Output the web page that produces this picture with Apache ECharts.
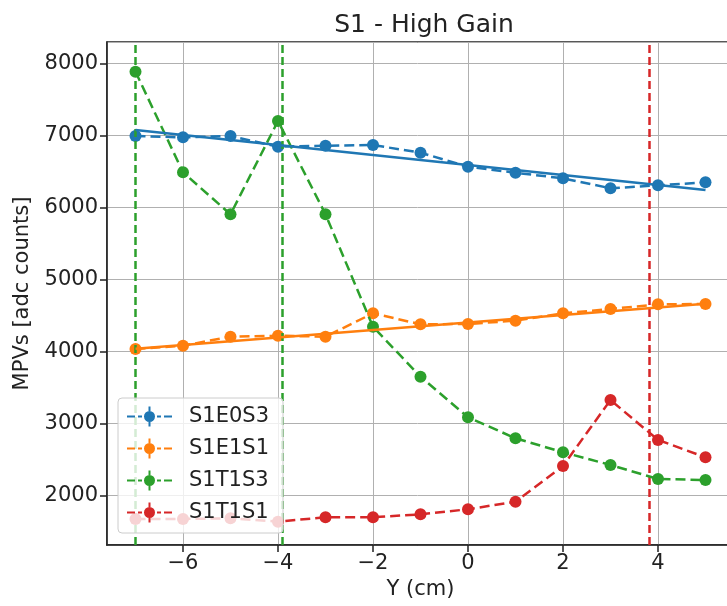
<!DOCTYPE html>
<html>
<head>
<meta charset="utf-8">
<script src="https://cdn.jsdelivr.net/npm/echarts@6/dist/echarts.min.js"></script>
<style>
html,body{margin:0;padding:0;background:#fff;}
#main{width:727px;height:606px;}
</style>
</head>
<body>
<div id="main"></div>
<script>
var xs = [-7, -6, -5, -4, -3, -2, -1, 0, 1, 2, 3, 4, 5];
var s1e0s3 = [6991, 6973, 6991, 6843, 6857, 6866, 6760, 6565, 6482, 6404, 6266, 6307, 6349];
var s1e1s1 = [4036, 4082, 4207, 4220, 4207, 4531, 4379, 4383, 4429, 4531, 4591, 4656, 4660];
var s1t1s3 = [7883, 6488, 5905, 7199, 5905, 4345, 3652, 3088, 2797, 2603, 2427, 2232, 2218];
var s1t1s1 = [1677, 1677, 1687, 1640, 1701, 1701, 1742, 1812, 1917, 2413, 3328, 2774, 2533];
var fitX = [-7, 5];
var fitE0S3 = [7075, 6242];
var fitE1S1 = [4040, 4665];
var vlineGreen = [-7, -3.91];
var vlineRed = [3.82];
var names = ['S1E0S3', 'S1E1S1', 'S1T1S3', 'S1T1S1'];
var colors = ['#1f77b4', '#ff7f0e', '#2ca02c', '#d62728'];

function pairs(x, y){
    var out = [];
    for(var i=0;i<x.length;i++){ out.push([x[i], y[i]]); }
    return out;
}
function minus(v){ return String(v).replace('-', '\u2212'); }

var legendIcon = 'path://M0,9h8v2h-8z M11,9h4v2h-4z M30,9h4v2h-4z M37,9h8v2h-8z M21.5,0h2v4.6h-2z M21.5,15.4h2v4.6h-2z M17,10a5.5,5.5 0 1,0 11,0a5.5,5.5 0 1,0 -11,0z';

function dataSeries(i, values, markX){
    var s = {
        name: names[i],
        type: 'line',
        data: pairs(xs, values),
        symbol: 'circle',
        symbolSize: 12,
        color: colors[i],
        lineStyle: {width: 2.5, type: [10, 5], color: colors[i]},
        itemStyle: {color: colors[i]},
        z: 3 + i
    };
    if(markX){
        s.markLine = {
            silent: true,
            symbol: 'none',
            label: {show: false},
            lineStyle: {color: colors[i], width: 2.5, type: [8, 4]},
            data: markX.map(function(v){ return {xAxis: v}; })
        };
    }
    return s;
}

var myChart = echarts.init(document.getElementById('main'));
var font = 'DejaVu Sans';
var option = {
    animation: false,
    textStyle: {fontFamily: font},
    title: {
        text: 'S1 - High Gain',
        left: 419, top: 8, textAlign: 'center',
        textStyle: {fontFamily: font, fontSize: 25, fontWeight: 'normal', color: '#222'}
    },
    grid: {
        left: 107, top: 42, width: 627, bottom: 61,
        outerBoundsMode: 'none', containLabel: false,
        show: true, borderColor: '#222', borderWidth: 1.5
    },
    legend: {
        orient: 'vertical',
        left: 118, top: 398,
        data: names.map(function(n){ return {name: n, icon: legendIcon}; }),
        itemWidth: 45, itemHeight: 20, itemGap: 11,
        padding: [8, 14, 10, 9],
        backgroundColor: 'rgba(255,255,255,0.8)',
        borderColor: '#ccc', borderWidth: 1, borderRadius: 4,
        textStyle: {fontFamily: font, fontSize: 21, color: '#222', padding: [0, 0, 0, 12], lineHeight: 21},
        z: 10
    },
    xAxis: {
        type: 'value',
        min: -7.6, max: 5.6, splitNumber: 6,
        name: 'Y (cm)', nameLocation: 'middle', nameGap: 32,
        nameTextStyle: {fontFamily: font, fontSize: 21, color: '#222'},
        axisLine: {show: true, onZero: false, lineStyle: {color: '#222', width: 1.5}},
        axisTick: {show: true, inside: false, length: 7, lineStyle: {color: '#222', width: 1.5}},
        axisLabel: {fontFamily: font, fontSize: 21, color: '#222', margin: 8,
            showMinLabel: false, showMaxLabel: false, formatter: minus},
        splitLine: {show: true, lineStyle: {color: '#b0b0b0', width: 1}}
    },
    yAxis: {
        type: 'value',
        min: 1316, max: 8296, splitNumber: 7,
        name: 'MPVs [adc counts]', nameLocation: 'middle', nameGap: 74,
        nameTextStyle: {fontFamily: font, fontSize: 21, color: '#222'},
        axisLine: {show: true, onZero: false, lineStyle: {color: '#222', width: 1.5}},
        axisTick: {show: true, inside: false, length: 7, lineStyle: {color: '#222', width: 1.5}},
        axisLabel: {fontFamily: font, fontSize: 21, color: '#222', margin: 9,
            showMinLabel: false, showMaxLabel: false, formatter: function(v){ return String(v); }},
        splitLine: {show: true, lineStyle: {color: '#b0b0b0', width: 1}}
    },
    series: [
        dataSeries(0, s1e0s3),
        dataSeries(1, s1e1s1),
        dataSeries(2, s1t1s3, vlineGreen),
        dataSeries(3, s1t1s1, vlineRed),
        {
            name: 'fit E0S3', type: 'line', data: pairs(fitX, fitE0S3),
            symbol: 'none', lineStyle: {color: colors[0], width: 2.5}, z: 8
        },
        {
            name: 'fit E1S1', type: 'line', data: pairs(fitX, fitE1S1),
            symbol: 'none', lineStyle: {color: colors[1], width: 2.5}, z: 8
        }
    ]
};
myChart.setOption(option);
</script>
</body>
</html>
